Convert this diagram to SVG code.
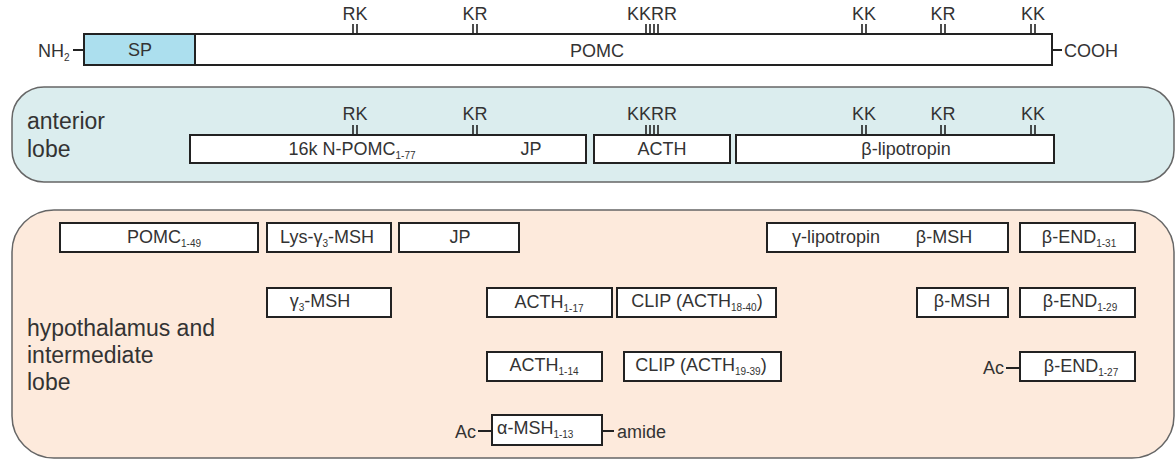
<svg xmlns="http://www.w3.org/2000/svg" width="1176" height="461" viewBox="0 0 1176 461">
<style>
text{font-family:"Liberation Sans",Arial,sans-serif;fill:#333;}
.t{font-size:18px;}
.big{font-size:23px;}
.c{text-anchor:middle;}
.box{fill:#fff;stroke:#222;stroke-width:2;}
.tick{stroke:#222;stroke-width:1.6;}
.sub{font-size:10px;}
.ln{stroke:#222;stroke-width:2;}
</style>
<rect width="1176" height="461" fill="#fff"/>
<!-- top precursor -->
<g id="precursor">
  <rect x="84" y="34" width="111" height="31" fill="#acdfee" stroke="#222" stroke-width="2"/>
  <rect x="195" y="34" width="857" height="31" class="box"/>
  <text x="140" y="56" class="t c">SP</text>
  <text x="597" y="57" class="t c">POMC</text>
  <line x1="73" y1="50" x2="84" y2="50" class="ln"/>
  <text x="38" y="57" class="t">NH<tspan class="sub" dy="4">2</tspan></text>
  <line x1="1052" y1="50" x2="1062" y2="50" class="ln"/>
  <text x="1064" y="57" class="t">COOH</text>
</g>
<g id="cleavage-top" class="sites">
  <path class="tick" d="M353 24V34M357 24V34M473 24V34M477 24V34M646 24V34M650 24V34M654 24V34M658 24V34M862 24V34M866 24V34M941 24V34M945 24V34M1031 24V34M1035 24V34"/>
  <text x="355" y="20" class="t c">RK</text>
  <text x="475" y="20" class="t c">KR</text>
  <text x="652" y="20" class="t c">KKRR</text>
  <text x="864" y="20" class="t c">KK</text>
  <text x="943" y="20" class="t c">KR</text>
  <text x="1033" y="20" class="t c">KK</text>
</g>
<!-- anterior lobe -->
<g id="anterior-lobe">
  <rect x="12" y="87" width="1162" height="95" rx="32" ry="32" fill="#dbedee" stroke="#666" stroke-width="1.5"/>
  <text x="27" y="129" class="big">anterior</text>
  <text x="27" y="157" class="big">lobe</text>
</g>
<g id="n-pomc">
  <rect x="190" y="135" width="396" height="28" class="box"/>
  <text x="352" y="155" class="t c">16k N-POMC<tspan class="sub" dy="4">1-77</tspan></text>
  <text x="531" y="155" class="t c">JP</text>
</g>
<g id="acth">
  <rect x="594" y="135" width="136" height="28" class="box"/>
  <text x="662" y="155" class="t c">ACTH</text>
</g>
<g id="b-lipotropin">
  <rect x="736" y="135" width="318" height="28" class="box"/>
  <text x="906" y="155" class="t c">β-lipotropin</text>
</g>
<g id="cleavage-anterior">
  <path class="tick" d="M353 125V135M357 125V135M473 125V135M477 125V135M646 125V135M650 125V135M654 125V135M658 125V135M862 125V135M866 125V135M941 125V135M945 125V135M1031 125V135M1035 125V135"/>
  <text x="355" y="120" class="t c">RK</text>
  <text x="475" y="120" class="t c">KR</text>
  <text x="652" y="120" class="t c">KKRR</text>
  <text x="864" y="120" class="t c">KK</text>
  <text x="943" y="120" class="t c">KR</text>
  <text x="1033" y="120" class="t c">KK</text>
</g>
<!-- hypothalamus and intermediate lobe -->
<g id="intermediate-lobe">
  <rect x="12" y="210" width="1162" height="248" rx="42" ry="42" fill="#fdeadc" stroke="#666" stroke-width="1.5"/>
  <text x="27" y="336" class="big">hypothalamus and</text>
  <text x="27" y="363" class="big">intermediate</text>
  <text x="27" y="390" class="big">lobe</text>
</g>
<g id="pomc1-49"><rect x="60" y="223" width="198" height="29" class="box"/><text x="164" y="243" class="t c">POMC<tspan class="sub" dy="4">1-49</tspan></text></g>
<g id="lys-g3-msh"><rect x="267" y="223" width="124" height="29" class="box"/><text x="327" y="243" class="t c">Lys-γ<tspan class="sub" dy="4">3</tspan><tspan dy="-4">-MSH</tspan></text></g>
<g id="jp"><rect x="399" y="223" width="120" height="29" class="box"/><text x="460" y="243" class="t c">JP</text></g>
<g id="g-lipotropin"><rect x="767" y="223" width="241" height="29" class="box"/><text x="836" y="243" class="t c">γ-lipotropin</text><text x="944" y="243" class="t c">β-MSH</text></g>
<g id="b-end1-31"><rect x="1020" y="223" width="115" height="29" class="box"/><text x="1079" y="243" class="t c">β-END<tspan class="sub" dy="4">1-31</tspan></text></g>
<g id="g3-msh"><rect x="267" y="288" width="124" height="29" class="box"/><text x="320" y="307" class="t c">γ<tspan class="sub" dy="4">3</tspan><tspan dy="-4">-MSH</tspan></text></g>
<g id="acth1-17"><rect x="487" y="288" width="125" height="29" class="box"/><text x="549" y="308" class="t c">ACTH<tspan class="sub" dy="4">1-17</tspan></text></g>
<g id="clip18-40"><rect x="617" y="288" width="159" height="29" class="box"/><text x="697" y="307" class="t c">CLIP (ACTH<tspan class="sub" dy="4">18-40</tspan><tspan dy="-4">)</tspan></text></g>
<g id="b-msh"><rect x="917" y="288" width="91" height="29" class="box"/><text x="962" y="307" class="t c">β-MSH</text></g>
<g id="b-end1-29"><rect x="1020" y="288" width="115" height="29" class="box"/><text x="1080" y="307" class="t c">β-END<tspan class="sub" dy="4">1-29</tspan></text></g>
<g id="acth1-14"><rect x="487" y="352" width="115" height="29" class="box"/><text x="544" y="371" class="t c">ACTH<tspan class="sub" dy="4">1-14</tspan></text></g>
<g id="clip19-39"><rect x="624" y="352" width="157" height="29" class="box"/><text x="701" y="371" class="t c">CLIP (ACTH<tspan class="sub" dy="4">19-39</tspan><tspan dy="-4">)</tspan></text></g>
<g id="b-end1-27"><rect x="1020" y="352" width="115" height="29" class="box"/><text x="1081" y="372" class="t c">β-END<tspan class="sub" dy="4">1-27</tspan></text><line x1="1006" y1="368" x2="1020" y2="368" class="ln"/><text x="1004" y="374" class="t" text-anchor="end">Ac</text></g>
<g id="a-msh"><rect x="492" y="415" width="110" height="30" class="box"/><text x="497" y="434" class="t">α-MSH<tspan class="sub" dy="4">1-13</tspan></text><line x1="478" y1="431" x2="492" y2="431" class="ln"/><text x="476" y="438" class="t" text-anchor="end">Ac</text><line x1="602" y1="431" x2="614" y2="431" class="ln"/><text x="617" y="438" class="t">amide</text></g>
</svg>
